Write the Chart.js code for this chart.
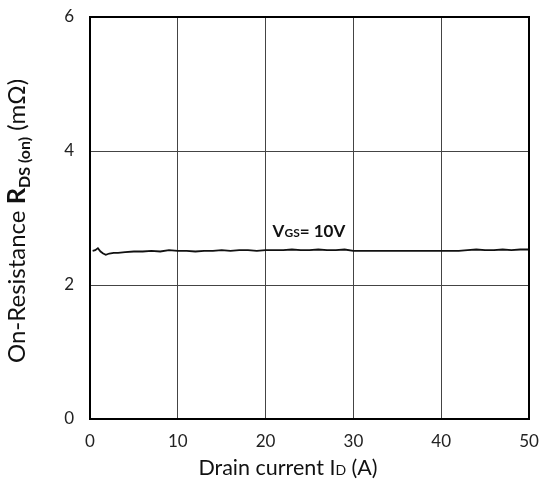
<!DOCTYPE html>
<html>
<head>
<meta charset="utf-8">
<script src="https://cdn.jsdelivr.net/npm/chart.js@4"></script>
<style>
  html, body { margin: 0; padding: 0; background: #fff; }
  #wrap { width: 539px; height: 491px; position: relative; }
</style>
</head>
<body>
<div id="wrap"><canvas id="c" width="539" height="491"></canvas></div>
<script>
// ---- data ----
const currentA = [0.3, 0.6, 0.9, 1.2, 1.5, 1.8, 2.2, 2.7, 3.2, 4, 5, 6, 7, 8, 9, 10, 11, 12, 13, 14, 15, 16, 17, 18, 19, 20, 21, 22, 23, 24, 25, 26, 27, 28, 29, 30, 31, 32, 33, 34, 35, 36, 37, 38, 39, 40, 41, 42, 43, 44, 45, 46, 47, 48, 49, 50];
const rdsOn    = [2.51, 2.52, 2.55, 2.50, 2.47, 2.45, 2.47, 2.48, 2.48, 2.49, 2.50, 2.50, 2.51, 2.50, 2.52, 2.51, 2.51, 2.50, 2.51, 2.51, 2.52, 2.51, 2.52, 2.52, 2.51, 2.52, 2.52, 2.52, 2.53, 2.52, 2.52, 2.53, 2.52, 2.52, 2.53, 2.51, 2.51, 2.51, 2.51, 2.51, 2.51, 2.51, 2.51, 2.51, 2.51, 2.51, 2.51, 2.51, 2.52, 2.53, 2.52, 2.52, 2.53, 2.52, 2.53, 2.53];
const xTicks = [0, 10, 20, 30, 40, 50];
const yTicks = [0, 2, 4, 6];
const xTitle = [{t: 'Drain current I', s: 21.5}, {t: 'D', s: 14}, {t: ' (A)', s: 21.5}];
const yTitle = [{t: 'On-Resistance ', s: 24}, {t: 'R', s: 25.5, b: true}, {t: 'DS (on)', s: 16, b: true, sub: 5}, {t: ' (mΩ)', s: 24}];
const annText = [{t: 'V', s: 17, b: true}, {t: 'GS', s: 12, b: true}, {t: '= 10V', s: 17, b: true}];
const annPos = {x: 20.8, y: 2.72};

const FONT = 'Lato, "Open Sans", sans-serif';

function drawRich(ctx, parts, x, y, align) {
  let total = 0;
  parts.forEach(p => { ctx.font = (p.b ? 'bold ' : '') + p.s + 'px ' + FONT; p.w = ctx.measureText(p.t).width; total += p.w; });
  let cx = align === 'center' ? x - total / 2 : x;
  ctx.textBaseline = 'alphabetic';
  ctx.textAlign = 'left';
  parts.forEach(p => {
    ctx.font = (p.b ? 'bold ' : '') + p.s + 'px ' + FONT;
    ctx.fillText(p.t, cx, y + (p.sub || 0));
    cx += p.w;
  });
}

const textPlugin = {
  id: 'textPlugin',
  afterDraw(chart) {
    const ctx = chart.ctx;
    const {left, right, top, bottom} = chart.chartArea;
    ctx.save();
    ctx.fillStyle = '#111';
    // x title
    drawRich(ctx, xTitle, 288, 475, 'center');
    // y title
    ctx.save();
    ctx.translate(25, 221);
    ctx.rotate(-Math.PI / 2);
    drawRich(ctx, yTitle, 0, 0, 'center');
    ctx.restore();
    // annotation
    const xs = chart.scales.x, ys = chart.scales.y;
    drawRich(ctx, annText, xs.getPixelForValue(annPos.x), ys.getPixelForValue(annPos.y), 'left');
    // frame
    ctx.strokeStyle = '#000';
    ctx.lineWidth = 2;
    ctx.strokeRect(left, top, right - left, bottom - top);
    ctx.restore();
  }
};

new Chart(document.getElementById('c'), {
  type: 'line',
  data: {
    datasets: [{
      data: currentA.map((x, i) => ({x: x, y: rdsOn[i]})),
      borderColor: '#111',
      borderWidth: 1.8,
      pointRadius: 0,
      tension: 0,
      fill: false
    }]
  },
  options: {
    responsive: false,
    animation: false,
    layout: { padding: { left: 0, right: 10, top: 17, bottom: 0 } },
    plugins: { legend: { display: false }, tooltip: { enabled: false } },
    scales: {
      x: {
        type: 'linear', min: 0, max: 50,
        afterBuildTicks: s => { s.ticks = xTicks.map(v => ({value: v})); },
        afterFit: s => { s.height = 72; s.paddingLeft = 0; s.paddingRight = 0; },
        grid: { color: '#444', lineWidth: 1, drawTicks: false },
        border: { color: '#000', width: 2 },
        ticks: { font: { family: FONT, size: 17 }, color: '#222', padding: 12, maxRotation: 0 }
      },
      y: {
        type: 'linear', min: 0, max: 6,
        afterBuildTicks: s => { s.ticks = yTicks.map(v => ({value: v})); },
        afterFit: s => { s.width = 90; s.paddingTop = 0; s.paddingBottom = 0; },
        grid: { color: '#444', lineWidth: 1, drawTicks: false },
        border: { color: '#000', width: 2 },
        ticks: { font: { family: FONT, size: 17 }, color: '#222', padding: 16 }
      }
    }
  },
  plugins: [textPlugin]
});
</script>
</body>
</html>
